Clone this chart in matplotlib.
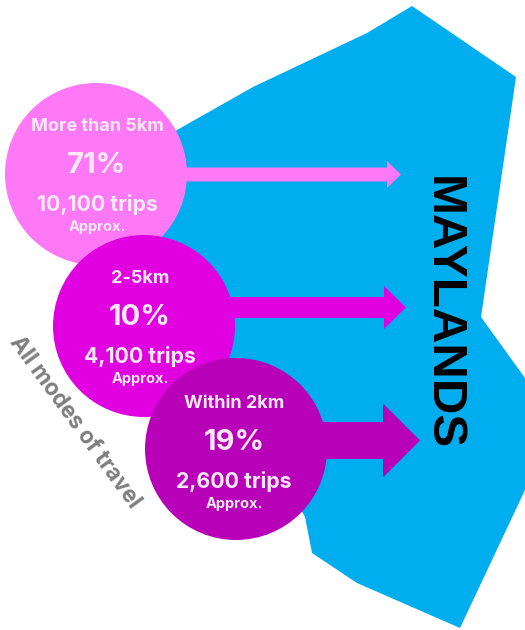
import matplotlib
matplotlib.use("Agg")
import matplotlib.pyplot as plt
from matplotlib.patches import Circle, Polygon

# trip figures for each distance band
bands = ["More than 5km", "2-5km", "Within 2km"]
shares = ["71%", "10%", "19%"]
trips = ["10,100 trips", "4,100 trips", "2,600 trips"]
note = "Approx."
suburb = "MAYLANDS"
side_label = "All modes of travel"

colours = ["#FF78F5", "#E000E0", "#B800B8"]
blue = "#00AEEF"
radius = 91
centres = [(96, 174), (144, 326), (236, 449)]

# text blocks sit a little off the circle centres
text_x = [97, 140, 234]
text_shift = [0, 0, 2]

# shaft half width, head half width, head base x, tip x for each arrow
arrows = [(7, 13.5, 387, 401), (10.5, 21.5, 384, 406), (18.5, 37, 383, 420)]
arrow_y = [174.5, 307.5, 440.5]

# suburb outline, pixel coordinates from the top left
outline = [(412, 6), (516, 77), (481, 317), (525, 378), (525, 490), (460, 628),
           (357, 583), (312, 553), (305, 517), (290, 490), (228, 390), (226, 340),
           (160, 240), (160, 145), (177, 130), (253, 87), (367, 33)]

plt.rcParams["font.family"] = ["Inter", "DejaVu Sans"]

fig = plt.figure(figsize=(5.25, 6.3), dpi=100)
ax = fig.add_axes([0, 0, 1, 1])
ax.set_xlim(0, 525)
ax.set_ylim(630, 0)
ax.axis("off")

ax.add_patch(Polygon(outline, closed=True, facecolor=blue, edgecolor="none", zorder=1))

for i in range(3):
    cx, cy = centres[i]
    shaft, head, base, tip = arrows[i]
    y = arrow_y[i]
    pts = [(cx, y - shaft), (base, y - shaft), (base, y - head), (tip, y),
           (base, y + head), (base, y + shaft), (cx, y + shaft)]
    ax.add_patch(Polygon(pts, closed=True, facecolor=colours[i], edgecolor="none", zorder=2 + i))
    ax.add_patch(Circle((cx, cy), radius, facecolor=colours[i], edgecolor="none", zorder=2 + i))

    # four lines of text inside each circle
    z = 6 + i
    tx = text_x[i]
    ty = cy + text_shift[i]
    ax.text(tx, ty - 43, bands[i], color="#FBE9FB", fontsize=13, fontweight="bold",
            ha="center", va="baseline", zorder=z)
    ax.text(tx, ty - 1, shares[i], color="#FBE9FB", fontsize=21, fontweight="bold",
            ha="center", va="baseline", zorder=z)
    ax.text(tx, ty + 37, trips[i], color="#FBE9FB", fontsize=15.3, fontweight="bold",
            ha="center", va="baseline", zorder=z)
    ax.text(tx, ty + 57, note, color="#FBE9FB", fontsize=10.5, fontweight="bold",
            ha="center", va="baseline", zorder=z)

ax.text(442, 313.5, suburb, color="black", fontsize=35.5, fontweight="bold",
        family="Liberation Sans", rotation=270, ha="center", va="center",
        rotation_mode="anchor", zorder=10)
ax.text(75, 422, side_label, color="#7F7F7F", fontsize=16.3, fontweight="bold",
        rotation=-54, ha="center", va="center", rotation_mode="anchor", zorder=10)

fig.savefig("out.png", dpi=100)
